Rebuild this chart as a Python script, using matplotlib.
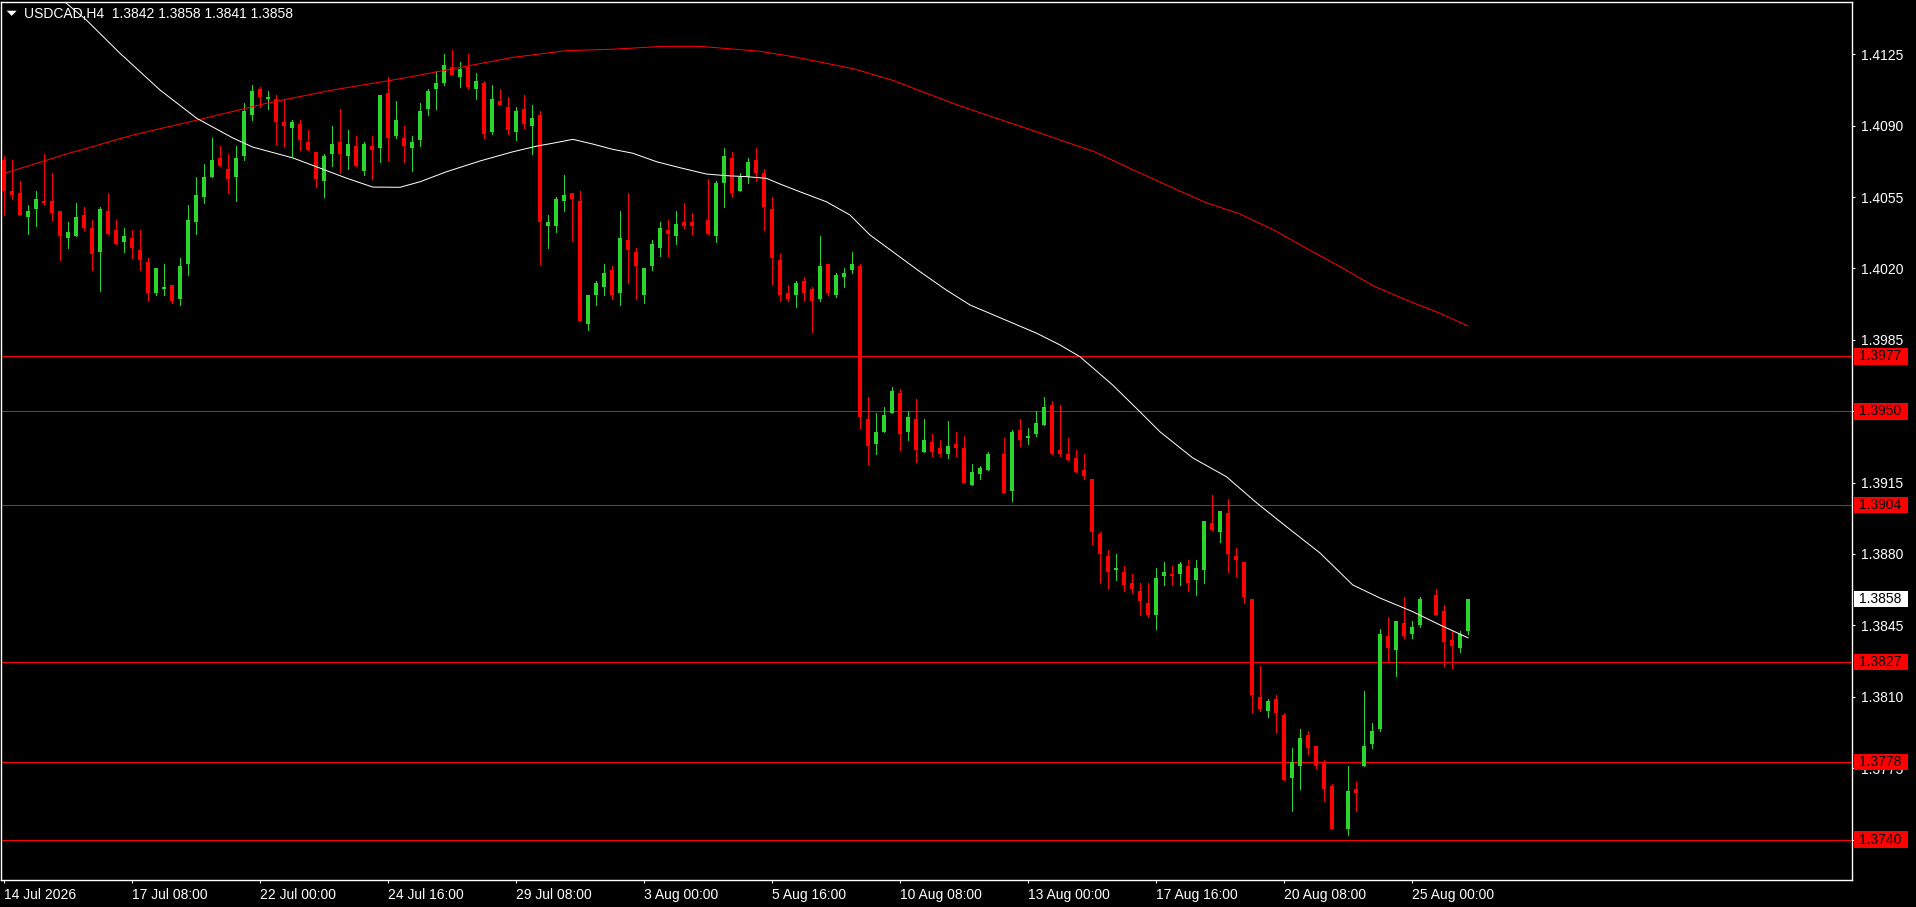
import numpy as np
import matplotlib
matplotlib.use("Agg")
import matplotlib.pyplot as plt
from matplotlib.patches import Rectangle, Polygon
from matplotlib.transforms import blended_transform_factory

# ---------------- data ----------------
symbol_title = "USDCAD,H4  1.3842 1.3858 1.3841 1.3858"
nan = np.nan
opens = [1.4073, 1.4058, 1.4057, 1.4045, 1.4049, 1.4053, 1.4053, 1.4048, 1.4035, 1.4036,
         1.4046, 1.4040, 1.4028, 1.4048, 1.4039, 1.4033, 1.4035, 1.4029, 1.4023, 1.4008,
         1.4010, 1.4012, 1.4005, 1.4022, 1.4043, 1.4055, 1.4065, 1.4074, 1.4069, 1.4065,
         1.4075, 1.4095, 1.4108, 1.4103, 1.4103, 1.4092, 1.4089, 1.4091, 1.4082, 1.4077,
         1.4063, 1.4076, 1.4082, 1.4075, 1.4080, 1.4068, 1.4080, 1.4079, 1.4106, 1.4085,
         1.4084, 1.4079, 1.4083, 1.4098, 1.4108, 1.4111, 1.4119, 1.4114, 1.4119, 1.4108,
         1.4111, 1.4087, 1.4102, 1.4099, 1.4087, 1.4098, 1.4090, 1.4095, 1.4041, 1.4041,
         1.4053, 1.4057, 1.4053, 1.3993, 1.4007, 1.4011, 1.4019, 1.4008, 1.4034, 1.4028,
         1.4007, 1.4021, 1.4030, 1.4039, 1.4036, 1.4043, 1.4043, nan, 1.4044, 1.4036,
         1.4062, 1.4074, 1.4058, 1.4065, 1.4073, 1.4067, 1.4049, 1.4024, 1.4008, 1.4007,
         1.4014, 1.4010, 1.4005, 1.4022, 1.4007, 1.4016, 1.4019, 1.4021, 1.3946, 1.3934,
         1.3940, 1.3949, 1.3959, 1.3940, 1.3946, 1.3930, 1.3935, 1.3932, 1.3929, 1.3934,
         1.3932, 1.3914, 1.3919, 1.3921, nan, 1.3929, 1.3911, 1.3941, 1.3937, 1.3939,
         1.3943, 1.3953, 1.3931, 1.3929, 1.3927, 1.3921, 1.3917, 1.3890, 1.3879, 1.3872,
         1.3871, 1.3866, 1.3862, 1.3856, 1.3850, 1.3869, 1.3870, 1.3870, 1.3874, 1.3867,
         1.3872, 1.3895, 1.3891, 1.3900, 1.3879, 1.3876, 1.3858, 1.3810, 1.3803, 1.3809,
         1.3801, 1.3770, 1.3776, 1.3791, 1.3786, 1.3778, 1.3766, nan, 1.3745, 1.3765,
         1.3776, 1.3787, 1.3794, 1.3840, 1.3833, 1.3846, 1.3841, 1.3845, nan, 1.3860,
         1.3852, 1.3838, 1.3834, 1.3842]
highs = [1.4075, 1.4073, 1.4063, 1.4051, 1.4058, 1.4076, 1.4067, 1.4048, 1.4043, 1.4052,
         1.4050, 1.4044, 1.4050, 1.4057, 1.4044, 1.4040, 1.4039, 1.4039, 1.4025, 1.4020,
         1.4022, 1.4012, 1.4025, 1.4051, 1.4065, 1.4071, 1.4084, 1.4080, 1.4076, 1.4080,
         1.4101, 1.4110, 1.4109, 1.4107, 1.4105, 1.4103, 1.4093, 1.4093, 1.4088, 1.4077,
         1.4076, 1.4090, 1.4098, 1.4088, 1.4085, 1.4082, 1.4085, 1.4105, 1.4114, 1.4102,
         1.4090, 1.4085, 1.4101, 1.4108, 1.4117, 1.4125, 1.4127, 1.4121, 1.4125, 1.4116,
         1.4112, 1.4110, 1.4108, 1.4104, 1.4099, 1.4105, 1.4100, 1.4097, 1.4046, 1.4055,
         1.4066, 1.4057, 1.4058, 1.4007, 1.4014, 1.4022, 1.4021, 1.4048, 1.4057, 1.4030,
         1.4020, 1.4034, 1.4043, 1.4044, 1.4048, 1.4052, 1.4047, nan, 1.4064, 1.4063,
         1.4079, 1.4077, 1.4067, 1.4074, 1.4079, 1.4069, 1.4055, 1.4027, 1.4012, 1.4014,
         1.4016, 1.4011, 1.4036, 1.4022, 1.4018, 1.4020, 1.4028, 1.4022, 1.3957, 1.3949,
         1.3952, 1.3962, 1.3961, 1.3950, 1.3956, 1.3946, 1.3939, 1.3936, 1.3945, 1.3940,
         1.3938, 1.3924, 1.3923, 1.3930, nan, 1.3937, 1.3941, 1.3946, 1.3942, 1.3950,
         1.3957, 1.3955, 1.3953, 1.3937, 1.3931, 1.3929, 1.3917, 1.3891, 1.3882, 1.3880,
         1.3874, 1.3870, 1.3866, 1.3866, 1.3873, 1.3876, 1.3874, 1.3876, 1.3877, 1.3877,
         1.3896, 1.3909, 1.3901, 1.3907, 1.3883, 1.3876, 1.3858, 1.3825, 1.3809, 1.3811,
         1.3802, 1.3785, 1.3794, 1.3793, 1.3786, 1.3779, 1.3767, nan, 1.3776, 1.3768,
         1.3813, 1.3797, 1.3843, 1.3849, 1.3847, 1.3859, 1.3847, 1.3859, nan, 1.3863,
         1.3855, 1.3842, 1.3842, 1.3858]
lows = [1.4046, 1.4054, 1.4046, 1.4037, 1.4041, 1.4051, 1.4044, 1.4024, 1.4030, 1.4036,
        1.4039, 1.4019, 1.4009, 1.4037, 1.4032, 1.4028, 1.4025, 1.4019, 1.4004, 1.4007,
        1.4007, 1.4003, 1.4002, 1.4017, 1.4037, 1.4052, 1.4065, 1.4070, 1.4057, 1.4053,
        1.4073, 1.4093, 1.4099, 1.4098, 1.4081, 1.4080, 1.4075, 1.4078, 1.4078, 1.4060,
        1.4055, 1.4070, 1.4067, 1.4069, 1.4070, 1.4066, 1.4064, 1.4072, 1.4073, 1.4084,
        1.4072, 1.4068, 1.4080, 1.4095, 1.4098, 1.4110, 1.4115, 1.4109, 1.4108, 1.4103,
        1.4084, 1.4086, 1.4100, 1.4086, 1.4083, 1.4089, 1.4076, 1.4022, 1.4030, 1.4038,
        1.4048, 1.4034, 1.3994, 1.3990, 1.4002, 1.4007, 1.4005, 1.4002, 1.4013, 1.4005,
        1.4003, 1.4019, 1.4026, 1.4026, 1.4032, 1.4040, 1.4037, nan, 1.4037, 1.4033,
        1.4050, 1.4055, 1.4058, 1.4062, 1.4063, 1.4039, 1.4012, 1.4004, 1.4004, 1.4001,
        1.4004, 1.3989, 1.4004, 1.4007, 1.4006, 1.4011, 1.4018, 1.3942, 1.3924, 1.3929,
        1.3940, 1.3949, 1.3931, 1.3936, 1.3925, 1.3930, 1.3928, 1.3928, 1.3927, 1.3928,
        1.3915, 1.3914, 1.3917, 1.3921, nan, 1.3910, 1.3906, 1.3933, 1.3934, 1.3938,
        1.3943, 1.3929, 1.3928, 1.3926, 1.3920, 1.3917, 1.3885, 1.3866, 1.3863, 1.3867,
        1.3862, 1.3861, 1.3850, 1.3849, 1.3843, 1.3865, 1.3865, 1.3865, 1.3862, 1.3860,
        1.3866, 1.3892, 1.3886, 1.3871, 1.3869, 1.3856, 1.3802, 1.3803, 1.3800, 1.3792,
        1.3769, 1.3754, 1.3765, 1.3782, 1.3775, 1.3759, 1.3745, nan, 1.3742, 1.3754,
        1.3776, 1.3785, 1.3793, 1.3828, 1.3820, 1.3839, 1.3839, 1.3844, nan, 1.3850,
        1.3825, 1.3824, 1.3832, 1.3841]
closes = [1.4058, 1.4056, 1.4046, 1.4048, 1.4054, 1.4052, 1.4047, 1.4036, 1.4038, 1.4045,
          1.4040, 1.4027, 1.4049, 1.4037, 1.4032, 1.4036, 1.4030, 1.4024, 1.4008, 1.4020,
          1.4011, 1.4004, 1.4021, 1.4044, 1.4056, 1.4065, 1.4073, 1.4070, 1.4064, 1.4074,
          1.4097, 1.4107, 1.4104, 1.4104, 1.4092, 1.4090, 1.4092, 1.4083, 1.4078, 1.4064,
          1.4075, 1.4081, 1.4076, 1.4081, 1.4070, 1.4081, 1.4078, 1.4105, 1.4084, 1.4093,
          1.4080, 1.4082, 1.4097, 1.4107, 1.4111, 1.4120, 1.4115, 1.4118, 1.4109, 1.4112,
          1.4086, 1.4103, 1.4100, 1.4088, 1.4097, 1.4091, 1.4094, 1.4043, 1.4043, 1.4054,
          1.4056, 1.4054, 1.3994, 1.4007, 1.4013, 1.4018, 1.4007, 1.4035, 1.4029, 1.4021,
          1.4020, 1.4032, 1.4040, 1.4037, 1.4042, 1.4041, 1.4041, nan, 1.4037, 1.4062,
          1.4075, 1.4057, 1.4065, 1.4072, 1.4067, 1.4050, 1.4025, 1.4007, 1.4005, 1.4013,
          1.4008, 1.4004, 1.4021, 1.4008, 1.4017, 1.4018, 1.4022, 1.3947, 1.3933, 1.3940,
          1.3948, 1.3960, 1.3939, 1.3947, 1.3931, 1.3936, 1.3930, 1.3929, 1.3933, 1.3932,
          1.3915, 1.3920, 1.3922, 1.3929, nan, 1.3910, 1.3940, 1.3936, 1.3938, 1.3944,
          1.3952, 1.3929, 1.3929, 1.3926, 1.3920, 1.3918, 1.3891, 1.3880, 1.3871, 1.3873,
          1.3865, 1.3863, 1.3857, 1.3850, 1.3868, 1.3871, 1.3869, 1.3875, 1.3866, 1.3873,
          1.3896, 1.3892, 1.3901, 1.3880, 1.3877, 1.3859, 1.3811, 1.3804, 1.3808, 1.3802,
          1.3769, 1.3778, 1.3790, 1.3785, 1.3776, 1.3765, 1.3745, nan, 1.3764, 1.3763,
          1.3786, 1.3793, 1.3841, 1.3834, 1.3847, 1.3840, 1.3844, 1.3858, nan, 1.3850,
          1.3837, 1.3835, 1.3841, 1.3858]

# moving averages (bar index, price)
ma_fast_bar = [0, 4, 7.8, 10.3, 14.5, 19.5, 24.1, 28.6, 31.1, 36.1, 39.5, 42.8, 46.1, 49.5,
               52, 55.3, 59.5, 63.6, 66.6, 68.6, 71.1, 73.6, 76.1, 78.6, 81.6, 84.5, 87.8,
               90.3, 92.8, 95.3, 97, 99.5, 102.8, 105.75, 108.25, 111.1, 114.5, 117.8,
               120.75, 124.9, 129.1, 132, 134.5, 138.6, 142, 144.5, 148.6, 152.8, 156.6,
               160.3, 164.5, 168.6, 172, 176.1, 179.5, 183]
ma_fast_val = [1.41776, 1.41635, 1.41500, 1.41418, 1.41255, 1.41075, 1.40936, 1.40840,
               1.40795, 1.40742, 1.40692, 1.40643, 1.40599, 1.40598, 1.40625, 1.40674,
               1.40727, 1.40772, 1.40800, 1.40814, 1.40833, 1.40810, 1.40784, 1.40765,
               1.40723, 1.40694, 1.40663, 1.40655, 1.40650, 1.40642, 1.40614, 1.40576,
               1.40527, 1.40462, 1.40364, 1.40282, 1.40184, 1.40094, 1.40021, 1.39952,
               1.39882, 1.39825, 1.39767, 1.39628, 1.39497, 1.39399, 1.39271, 1.39179,
               1.39050, 1.38934, 1.38805, 1.38648, 1.38584, 1.38517, 1.38452, 1.38389]
ma_slow_bar = [0, 7.8, 16.1, 24.5, 32.8, 41.1, 49.5, 55.3, 63.6, 70.3, 76.1, 82.4, 87,
               94.5, 98.7, 102.8, 106.2, 111.2, 115.3, 119.5, 123.7, 127.8, 132, 136.2,
               140.3, 146.2, 150.3, 154.5, 158.7, 162.8, 167, 171.2, 175.3, 179.5, 183]
ma_slow_val = [1.40666, 1.40761, 1.40854, 1.40931, 1.41010, 1.41075, 1.41130, 1.41173,
               1.41235, 1.41268, 1.41275, 1.41289, 1.41289, 1.41265, 1.41238, 1.41206,
               1.41179, 1.41121, 1.41059, 1.40997, 1.40941, 1.40887, 1.40830, 1.40774,
               1.40699, 1.40593, 1.40522, 1.40467, 1.40389, 1.40299, 1.40209, 1.40114,
               1.40045, 1.39980, 1.39918]

level_lines = [1.3977, 1.3950, 1.3904, 1.3827, 1.3778, 1.3740]
bid_price = 1.3858
price_ticks = [1.4125, 1.4090, 1.4055, 1.4020, 1.3985, 1.3950, 1.3915, 1.3880,
               1.3845, 1.3810, 1.3775, 1.3740]
time_labels = ["14 Jul 2026", "17 Jul 08:00", "22 Jul 00:00", "24 Jul 16:00",
               "29 Jul 08:00", "3 Aug 00:00", "5 Aug 16:00", "10 Aug 08:00",
               "13 Aug 00:00", "17 Aug 16:00", "20 Aug 08:00", "25 Aug 00:00"]
time_label_bars = [0, 16, 32, 48, 64, 80, 96, 112, 128, 144, 160, 176]

# ---------------- styling ----------------
W, H = 1916, 907
BULL = "#2bd62b"
BEAR = "#ff0000"
FONT = "Liberation Sans"

fig = plt.figure(figsize=(W / 100, H / 100), dpi=100, facecolor="black")
ax_left, ax_right, ax_top, ax_bottom = 1, 1852.3, 2, 880.3
ax = fig.add_axes([ax_left / W, (H - ax_bottom) / H,
                   (ax_right - ax_left) / W, (ax_bottom - ax_top) / H])
ax.set_facecolor("black")
for s in ax.spines.values():
    s.set_color("white")
    s.set_linewidth(1.0)

px_per_bar = 8.0
x0 = -0.375
x1 = x0 + (ax_right - ax_left) / px_per_bar
ax.set_xlim(x0, x1)
y_top = 1.415065
y_bot = 1.372000
ax.set_ylim(y_bot, y_top)
price_per_px = (y_top - y_bot) / (ax_bottom - ax_top)

o = np.array(opens); h = np.array(highs); l = np.array(lows); c = np.array(closes)
idx = np.arange(len(o))
valid = ~np.isnan(o)
up = valid & (c >= o)
dn = valid & (c < o)

lw1 = 0.72  # 1 px
for mask, col in ((up, BULL), (dn, BEAR)):
    ax.vlines(idx[mask], l[mask], h[mask], colors=col, linewidth=lw1,
              antialiased=False, zorder=3)
    bottoms = np.minimum(o[mask], c[mask])
    heights = np.maximum(np.abs(c[mask] - o[mask]), price_per_px)
    ax.bar(idx[mask], heights, bottom=bottoms, width=0.62, color=col,
           edgecolor="none", linewidth=0, antialiased=False, zorder=4)

# moving averages
ax.plot(ma_slow_bar, ma_slow_val, color="#ff0000", linewidth=lw1, zorder=5)
ax.plot(ma_fast_bar, ma_fast_val, color="white", linewidth=lw1, zorder=5)

# horizontal levels
for lv in level_lines:
    ax.axhline(lv, color="#ff0000", linewidth=lw1, zorder=2)

# axes ticks
ax.yaxis.tick_right()
ax.set_yticks(price_ticks)
ax.set_yticklabels([f"{p:.4f}" for p in price_ticks])
ax.tick_params(axis="y", direction="out", length=2.2, width=lw1, pad=3.8,
               colors="white", labelsize=10)
ax.set_xticks(time_label_bars)
ax.set_xticklabels(time_labels)
ax.tick_params(axis="x", direction="out", length=2.2, width=lw1, pad=3.2,
               colors="white", labelsize=10)
for lab in ax.get_xticklabels():
    lab.set_horizontalalignment("left")
    lab.set_fontfamily(FONT)
for lab in ax.get_yticklabels():
    lab.set_fontfamily(FONT)

# price labels on the right scale
trans = blended_transform_factory(ax.transAxes, ax.transData)
ax_w = ax_right - ax_left
box_x = (1854 - ax_left) / ax_w
box_w = (1907.7 - 1854) / ax_w
txt_x = (1859.5 - ax_left) / ax_w
box_h = 16.7 * price_per_px
for lv in level_lines:
    ax.add_patch(Rectangle((box_x, lv - box_h / 2), box_w, box_h, transform=trans,
                           facecolor="#ff0000", edgecolor="none", clip_on=False, zorder=10))
    ax.text(txt_x, lv, f"{lv:.4f}", transform=trans, color="black", fontsize=10,
            family=FONT, va="center", ha="left", clip_on=False, zorder=11)
ax.add_patch(Rectangle((box_x, bid_price - box_h / 2), box_w, box_h, transform=trans,
                       facecolor="white", edgecolor="none", clip_on=False, zorder=10))
ax.text(txt_x, bid_price, f"{bid_price:.4f}", transform=trans, color="black", fontsize=10,
        family=FONT, va="center", ha="left", clip_on=False, zorder=11)

# title with triangle
tri = Polygon([[6.7 / W, 1 - 10.7 / H], [16.7 / W, 1 - 10.7 / H], [11.7 / W, 1 - 15.9 / H]],
              closed=True, transform=fig.transFigure, facecolor="white", edgecolor="none")
fig.patches.append(tri)
fig.text(24 / W, 1 - 14.3 / H, symbol_title, color="white", fontsize=10, family=FONT,
         va="center", ha="left")

fig.savefig("out.png", dpi=100, facecolor="black")
